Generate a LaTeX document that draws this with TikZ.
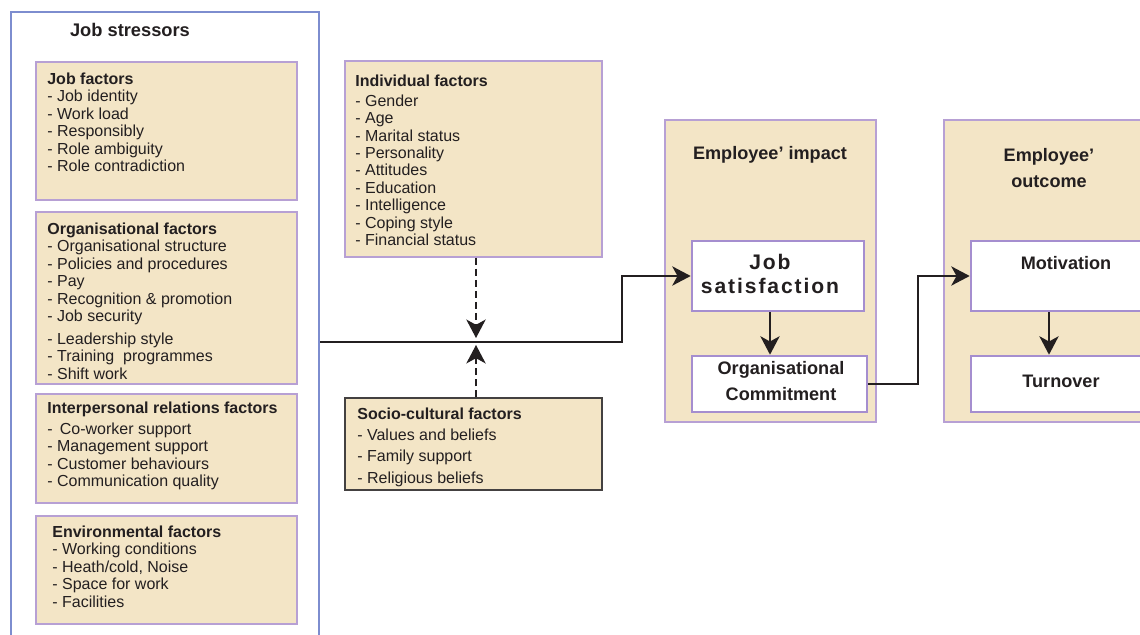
\documentclass[tikz,border=0pt]{standalone}
\usepackage{fontspec}
\setmainfont{Liberation Sans}
\newfontfamily\widefont[LetterSpace=9]{Liberation Sans}
\usetikzlibrary{fit, arrows.meta}
\definecolor{tan}{HTML}{F3E5C6}
\definecolor{lilac}{HTML}{B7A0D4}
\definecolor{boxviolet}{HTML}{A58ECF}
\definecolor{frameblue}{HTML}{7D8DCF}
\definecolor{ink}{HTML}{231F20}
\tikzstyle{factor} = [rectangle, draw=lilac, fill=tan, line width=.7pt, inner sep=0pt]
\tikzstyle{inbox} = [rectangle, draw=boxviolet, fill=white, line width=1.5pt, inner sep=0pt]
\tikzstyle{list} = [draw=none, inner sep=0pt, align=left, text=ink, font=\fontsize{9.1}{9.9}\selectfont]
\tikzstyle{head} = [draw=none, inner sep=0pt, align=center, text=ink, font=\fontsize{10.3}{14.5}\selectfont\bfseries]
\tikzstyle{arr} = [-{Stealth[length=10.5pt, width=11pt, inset=3pt]}, line width=1.1pt, draw=ink]
\tikzstyle{dasharr} = [arr, dash pattern=on 4pt off 2.3pt]

\begin{document}
\begin{tikzpicture}[x=0.02cm, y=-0.02cm]
    \useasboundingbox (0,0) rectangle (1140,635);
    \clip (0,0) rectangle (1140,635);

    % job stressors
    \node[draw=frameblue, line width=1.3pt, inner sep=0pt, fit={(11,12) (319,680)}] (stress) {};
    \node[head, font=\fontsize{10.4}{12}\selectfont\bfseries] (stresstitle) at (130,30) {Job stressors};
    \foreach \n/\a/\b in {jobf/62/200, orgf/212/384, intf/394/503, envf/516/624}
    \node[factor, fit={(36,\a) (297,\b)}] (\n) {};

    \node[list, anchor=north west] (jobtxt) at (47,72.5) {\textbf{Job factors}\\- Job identity\\- Work load\\- Responsibly\\- Role ambiguity\\- Role contradiction};
    \node[list, anchor=north west] (orgtxt) at (47,222.5) {\textbf{Organisational factors}\\- Organisational structure\\- Policies and procedures\\- Pay\\- Recognition \& promotion\\- Job security\\[3.1pt]- Leadership style\\- Training\ \ programmes\\- Shift work};
    \node[list, anchor=north west] (inttxt) at (47,401.5) {\textbf{Interpersonal relations factors}\\[2pt]-\hspace{.45em}Co-worker support\\- Management support\\- Customer behaviours\\- Communication quality};
    \node[list, anchor=north west] (envtxt) at (52,525.5) {\textbf{Environmental factors}\\- Working conditions\\- Heath/cold, Noise\\- Space for work\\- Facilities};

    % moderating factors
    \node[factor, fit={(345,61) (602,257)}] (indiv) {};
    \node[factor, draw=ink!85, fit={(345,398) (602,490)}] (socio) {};
    \node[list, anchor=north west] (indtxt) at (355,74.5) {\textbf{Individual factors}\\[1.4pt]- Gender\\- Age\\- Marital status\\- Personality\\- Attitudes\\- Education\\- Intelligence\\- Coping style\\- Financial status};
    \node[list, anchor=north west] (soctxt) at (357,407.5) {\textbf{Socio-cultural factors}\\[2.2pt]- Values and beliefs\\[2.2pt]- Family support\\[2.2pt]- Religious beliefs};

    % employee impact
    \node[factor, fit={(665,120) (876,422)}] (impact) {};
    \node[head] (imptitle) at (770,155) {Employee’ impact};
    \node[inbox, fit={(692,241) (864,311)}] (jobsat) {};
    \node[inbox, fit={(692,356) (867,412)}] (orgcom) {};
    \node[head, font=\fontsize{12}{13.8}\selectfont\widefont\bfseries] (jstxt) at (770,274) {Job\\satisfaction};
    \node[head] (octxt) at (781,381) {Organisational\\Commitment};

    % employee outcome
    \node[factor, fit={(944,120) (1220,422)}] (outcome) {};
    \node[head] (outtitle) at (1049,168) {Employee’\\outcome};
    \node[inbox, fit={(971,241) (1220,311)}] (motiv) {};
    \node[inbox, fit={(971,356) (1220,412)}] (turn) {};
    \node[head] (motivtxt) at (1066,263) {Motivation};
    \node[head] (turntxt) at (1061,381) {Turnover};

    % connectors
    \coordinate (junc) at (476,342);
    \coordinate (bend) at (622,342);
    \draw[line width=1.1pt, draw=ink] (stress.east |- junc) -- (junc);
    \draw[arr] (junc) -- (bend) |- (jobsat.west);
    \draw[dasharr] (indiv.south -| junc) -- ([shift={(0,-4)}]junc);
    \draw[dasharr] (socio.north -| junc) -- ([shift={(0,3)}]junc);
    \draw[arr] (jobsat.south -| imptitle) -- (orgcom.north -| imptitle);
    \draw[arr] (orgcom.east) -- ++(50,0) |- (motiv.west);
    \draw[arr] (motiv.south -| outtitle) -- (turn.north -| outtitle);
\end{tikzpicture}
\end{document}
